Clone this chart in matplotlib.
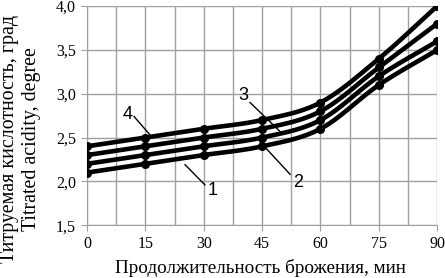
import numpy as np
import matplotlib
matplotlib.use('Agg')
import matplotlib.pyplot as plt
from matplotlib.ticker import FuncFormatter, MultipleLocator

# Data
time_min = [0, 15, 30, 45, 60, 75, 90]
acid_1 = [2.1, 2.2, 2.3, 2.4, 2.6, 3.1, 3.5]
acid_2 = [2.2, 2.3, 2.4, 2.5, 2.7, 3.2, 3.6]
acid_3 = [2.3, 2.4, 2.5, 2.6, 2.8, 3.3, 3.8]
acid_4 = [2.4, 2.5, 2.6, 2.7, 2.9, 3.4, 4.0]
series = [acid_1, acid_2, acid_3, acid_4]

# curve labels: text, text position, leader line start and end
labels = ['1', '2', '3', '4']
label_xy = [(32.3, 1.90), (54.2, 1.99), (40.1, 2.98), (10.5, 2.76)]
leader_from = [(30.3, 1.96), (52.2, 2.08), (41.9, 2.90), (12.1, 2.74)]
leader_to = [(25.2, 2.19), (44.5, 2.45), (49.6, 2.57), (16.2, 2.53)]


def smooth(x, y, n=20):
    # Catmull-Rom curve through the points, like Excel's smoothed line
    x = np.asarray(x, float)
    y = np.asarray(y, float)
    px = np.concatenate([[2 * x[0] - x[1]], x, [2 * x[-1] - x[-2]]])
    py = np.concatenate([[2 * y[0] - y[1]], y, [2 * y[-1] - y[-2]]])
    out_x, out_y = [], []
    t = np.linspace(0, 1, n)
    for i in range(1, len(px) - 2):
        for p, out in ((px, out_x), (py, out_y)):
            p0, p1, p2, p3 = p[i - 1], p[i], p[i + 1], p[i + 2]
            out.extend(0.5 * ((2 * p1) + (-p0 + p2) * t
                              + (2 * p0 - 5 * p1 + 4 * p2 - p3) * t ** 2
                              + (-p0 + 3 * p1 - 3 * p2 + p3) * t ** 3))
    return out_x, out_y


plt.rcParams['font.family'] = ['Liberation Serif', 'DejaVu Serif']

fig = plt.figure(figsize=(4.45, 2.78), dpi=100)
ax = fig.add_axes([0.1955, 0.19, 0.787, 0.788])

for s in series:
    sx, sy = smooth(time_min, s)
    ax.plot(sx, sy, color='black', lw=3.3, solid_capstyle='round', zorder=3)
    ax.plot(time_min, s, 'o', color='black', ms=5.5, zorder=4)

for txt, (tx, ty), (x0, y0), (x1, y1) in zip(labels, label_xy, leader_from, leader_to):
    ax.text(tx, ty, txt, ha='center', va='center', fontsize=13,
            family='Liberation Sans', zorder=5)
    ax.plot([x0, x1], [y0, y1], color='black', lw=1.0, zorder=5)

ax.set_xlim(0, 90)
ax.set_ylim(1.5, 4.0)
ax.xaxis.set_major_locator(MultipleLocator(15))
ax.xaxis.set_minor_locator(MultipleLocator(7.5))
ax.yaxis.set_major_locator(MultipleLocator(0.5))
ax.yaxis.set_major_formatter(FuncFormatter(lambda v, p: f'{v:.1f}'.replace('.', ',')))
ax.grid(True, which='both', axis='x', color='#a0a0a0', lw=1.0)
ax.grid(True, which='major', axis='y', color='#a0a0a0', lw=1.0)
ax.tick_params(which='major', length=4, color='#a0a0a0', labelsize=11.5, pad=4)
ax.tick_params(which='minor', length=0)
for sp in ax.spines.values():
    sp.set_visible(False)
ax.spines['left'].set_visible(True)
ax.spines['bottom'].set_visible(True)
ax.spines['left'].set_color('#a0a0a0')
ax.spines['bottom'].set_color('#a0a0a0')

fig.text(260 / 445, 1 - 268 / 278, 'Продолжительность брожения, мин',
         ha='center', va='center', fontsize=13.8)
fig.text(10 / 445, 0.5, 'Титруемая кислотность, град', rotation=90,
         ha='center', va='center', fontsize=14.3)
fig.text(32 / 445, 0.5, 'Titrated acidity, degree', rotation=90,
         ha='center', va='center', fontsize=14.3)

fig.savefig('out.png', dpi=100)
